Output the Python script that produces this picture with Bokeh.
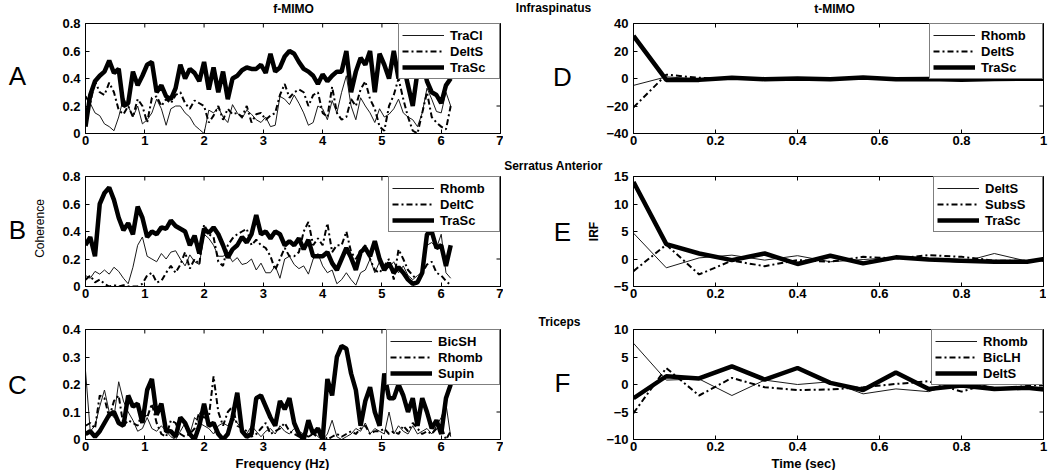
import math
from bokeh.plotting import figure
from bokeh.models import Range1d, FixedTicker, Legend, LegendItem, Label
from bokeh.layouts import column, row
from bokeh.embed import file_html
from bokeh.resources import INLINE

FONT = "Liberation Sans"

# ---------------- data ----------------
freq = [round(0.08 * i, 2) for i in range(78)]  # sampling grid (Hz)

A_TraCl = [0.08,0.22,0.15,0.13,0.07,0.05,0.02,0.12,0.26,0.20,
           0.12,0.20,0.07,0.10,0.15,0.25,0.18,0.06,0.18,0.20,
           0.20,0.15,0.12,0.06,0.03,0.00,0.17,0.15,0.19,0.12,
           0.08,0.21,0.15,0.11,0.17,0.14,0.10,0.08,0.12,0.05,
           0.06,0.27,0.25,0.21,0.28,0.22,0.15,0.06,0.08,0.20,
           0.18,0.10,0.24,0.15,0.30,0.42,0.20,0.10,0.26,0.20,
           0.15,0.08,0.18,0.12,0.14,0.18,0.25,0.15,0.12,0.10,
           0.05,0.15,0.33,0.25,0.16,0.15,0.30,0.20]
A_DeltS = [0.27,0.22,0.38,0.30,0.28,0.37,0.30,0.17,0.14,0.20,
           0.12,0.25,0.20,0.08,0.26,0.27,0.20,0.25,0.22,0.28,
           0.30,0.22,0.18,0.24,0.22,0.20,0.08,0.13,0.20,0.10,
           0.18,0.14,0.15,0.12,0.20,0.08,0.14,0.15,0.10,0.13,
           0.15,0.28,0.36,0.26,0.30,0.32,0.30,0.20,0.28,0.30,
           0.15,0.12,0.34,0.15,0.10,0.12,0.25,0.20,0.32,0.38,
           0.25,0.18,0.05,0.02,0.20,0.28,0.40,0.25,0.12,0.02,
           0.00,0.15,0.30,0.12,0.08,0.05,0.03,0.20]
A_TraSc = [0.05,0.28,0.38,0.42,0.45,0.53,0.44,0.47,0.20,0.22,
           0.45,0.35,0.42,0.50,0.52,0.30,0.35,0.27,0.25,0.33,
           0.50,0.40,0.47,0.44,0.38,0.52,0.32,0.48,0.30,0.45,
           0.25,0.40,0.42,0.46,0.48,0.47,0.47,0.50,0.44,0.58,
           0.45,0.48,0.56,0.60,0.58,0.52,0.47,0.45,0.42,0.36,
           0.43,0.38,0.42,0.45,0.45,0.60,0.30,0.45,0.55,0.50,
           0.60,0.30,0.58,0.50,0.40,0.60,0.40,0.50,0.35,0.20,
           0.45,0.52,0.38,0.30,0.28,0.22,0.35,0.40]

B_Rhomb = [0.08,0.06,0.11,0.09,0.12,0.09,0.14,0.11,0.06,0.02,
           0.14,0.30,0.36,0.22,0.20,0.18,0.24,0.20,0.25,0.26,
           0.20,0.15,0.23,0.18,0.16,0.38,0.35,0.30,0.22,0.22,
           0.24,0.18,0.21,0.16,0.17,0.20,0.12,0.17,0.10,0.10,
           0.15,0.06,0.20,0.22,0.16,0.13,0.15,0.09,0.20,0.24,
           0.15,0.10,0.12,0.02,0.05,0.10,0.05,0.01,0.10,0.12,
           0.20,0.10,0.18,0.12,0.14,0.18,0.10,0.15,0.08,0.05,
           0.08,0.10,0.30,0.32,0.28,0.38,0.10,0.06]
B_DeltC = [0.05,0.08,0.03,0.05,0.02,0.00,0.01,0.00,0.01,0.00,
           0.00,0.00,0.02,0.08,0.10,0.03,0.04,0.10,0.15,0.10,
           0.16,0.25,0.13,0.20,0.16,0.45,0.38,0.36,0.18,0.15,
           0.30,0.35,0.38,0.40,0.42,0.30,0.34,0.30,0.28,0.22,
           0.12,0.20,0.28,0.22,0.22,0.25,0.40,0.47,0.30,0.35,
           0.30,0.46,0.25,0.30,0.30,0.40,0.25,0.20,0.26,0.30,
           0.20,0.12,0.10,0.15,0.20,0.05,0.27,0.20,0.12,0.08,
           0.05,0.10,0.16,0.18,0.10,0.08,0.04,0.01]
B_TraSc = [0.30,0.36,0.22,0.60,0.68,0.72,0.63,0.50,0.41,0.46,
           0.38,0.58,0.50,0.36,0.40,0.38,0.43,0.42,0.48,0.44,
           0.42,0.40,0.30,0.37,0.24,0.42,0.39,0.43,0.38,0.30,
           0.21,0.27,0.30,0.36,0.32,0.38,0.52,0.38,0.40,0.35,
           0.40,0.38,0.30,0.33,0.30,0.35,0.27,0.34,0.22,0.22,
           0.22,0.25,0.17,0.12,0.20,0.28,0.21,0.12,0.25,0.28,
           0.22,0.33,0.20,0.12,0.17,0.10,0.14,0.10,0.05,0.02,
           0.03,0.10,0.38,0.40,0.28,0.30,0.15,0.30]

C_BicSH = [0.25,0.03,0.05,0.12,0.18,0.10,0.08,0.21,0.14,0.10,
           0.07,0.03,0.04,0.08,0.04,0.03,0.05,0.03,0.01,0.00,
           0.03,0.06,0.02,0.08,0.06,0.05,0.04,0.02,0.05,0.06,
           0.05,0.08,0.06,0.04,0.02,0.05,0.03,0.01,0.03,0.04,
           0.02,0.05,0.03,0.02,0.04,0.03,0.02,0.05,0.03,0.01,
           0.00,0.02,0.07,0.01,0.00,0.01,0.02,0.04,0.03,0.06,
           0.02,0.04,0.03,0.02,0.10,0.02,0.05,0.03,0.02,0.05,
           0.02,0.03,0.04,0.02,0.05,0.08,0.13,0.01]
C_Rhomb = [0.05,0.06,0.04,0.16,0.15,0.08,0.14,0.16,0.05,0.07,
           0.06,0.05,0.10,0.08,0.13,0.06,0.02,0.01,0.07,0.06,
           0.02,0.01,0.02,0.04,0.10,0.08,0.08,0.23,0.10,0.05,
           0.10,0.12,0.05,0.04,0.03,0.01,0.02,0.04,0.06,0.02,
           0.03,0.04,0.06,0.03,0.02,0.01,0.02,0.01,0.02,0.01,
           0.02,0.00,0.01,0.02,0.01,0.02,0.03,0.02,0.04,0.05,
           0.02,0.03,0.03,0.04,0.02,0.03,0.02,0.05,0.03,0.06,
           0.04,0.02,0.03,0.02,0.04,0.05,0.00,0.03]
C_Supin = [0.02,0.03,0.01,0.03,0.06,0.09,0.10,0.06,0.05,0.16,
           0.12,0.13,0.06,0.18,0.22,0.09,0.13,0.03,0.03,0.01,
           0.08,0.06,0.02,0.00,0.05,0.13,0.05,0.06,0.02,0.00,
           0.02,0.08,0.17,0.03,0.01,0.02,0.15,0.16,0.12,0.08,
           0.05,0.14,0.11,0.15,0.06,0.02,0.00,0.07,0.02,0.04,
           0.00,0.22,0.16,0.30,0.34,0.33,0.24,0.18,0.05,0.14,
           0.19,0.10,0.05,0.24,0.15,0.15,0.20,0.16,0.10,0.15,
           0.05,0.15,0.10,0.04,0.07,0.02,0.15,0.20]

time = [0.0, 0.08, 0.16, 0.24, 0.32, 0.40, 0.48, 0.56, 0.64, 0.72, 0.80, 0.88, 0.96, 1.04]

D_Rhomb = [-5.0, 1.2, -0.3, 0.2, -0.2, 0.1, -0.1, 0.3, -0.2, 0.1, -0.3, 0.1, 0.0, 0.0]
D_DeltS = [-21.0, 2.8, 0.5, -0.2, 0.3, -0.1, 0.2, -0.2, 0.1, 0.0, -0.2, 0.1, 0.0, 0.0]
D_TraSc = [31.0, -1.0, -1.0, 0.5, -0.5, 0.0, -0.5, 0.8, -0.5, -0.3, -1.0, -0.3, -0.2, 0.0]

E_DeltS = [4.7, -1.6, 0.2, 0.7, -0.2, 0.6, -0.5, -0.1, 0.3, -0.2, -0.6, 1.0, -0.4, -0.3]
E_SubsS = [-2.2, 2.6, -2.8, -0.3, -1.3, -0.2, -0.5, 0.4, 0.1, 0.7, 0.4, -0.3, -0.3, -0.3]
E_TraSc = [14.0, 2.7, 1.0, -0.2, 1.0, -0.9, 0.6, -0.8, 0.3, -0.1, -0.3, -0.5, -0.5, 0.5]

F_Rhomb = [7.5, 0.8, 1.0, -2.0, 0.8, 0.0, 0.5, -1.7, -0.8, -1.3, 0.5, -0.5, -0.7, -0.5]
F_BicLH = [-5.2, 3.0, -2.0, 1.2, -0.5, -1.0, -0.9, -0.5, 0.1, 0.6, -1.3, 0.5, -0.1, -0.3]
F_DeltS = [-2.5, 1.5, 1.1, 3.3, 0.9, 3.0, 0.3, -1.0, 2.2, -0.8, -0.2, -0.8, -0.6, -1.2]

freq_ticks = [0, 1, 2, 3, 4, 5, 6, 7]
coh_ticks_ab = [0, 0.2, 0.4, 0.6, 0.8]
coh_ticks_c = [0, 0.1, 0.2, 0.3, 0.4]
time_ticks = [0, 0.2, 0.4, 0.6, 0.8, 1]
irf_ticks_d = [-40, -20, 0, 20, 40]
irf_ticks_e = [-5, 0, 5, 10, 15]
irf_ticks_f = [-10, -5, 0, 5, 10]

# ---------------- layout constants (px) ----------------
FH = 110
TOP_H = 15
BOT_H = 14
ROW_BORDERS = [(8, 21), (22, 22), (21, 17)]      # (top, bottom) per row
LS_W = 57                                       # left text strip
L_BL, L_FW, L_BR = 28, 415, 3
MID_W = 100                                     # middle text strip
R_BL, R_FW, R_BR = 27, 410, 6
MAIN_H = sum(t + FH + b for t, b in ROW_BORDERS)
TOTAL_W = LS_W + L_BL + L_FW + L_BR + MID_W + R_BL + R_FW + R_BR

STYLES = {
    "thin": dict(line_width=1, line_color="#1a1a1a"),
    "dash": dict(line_width=2, line_color="black", line_dash="6 3 2 3"),
    "thick": dict(line_width=4.5, line_color="black"),
}


def make_fig(xmax, ylo, yhi, xticks, yticks, bl, br, bt, bb, fw):
    p = figure(frame_width=fw, frame_height=FH,
               x_range=Range1d(0, xmax), y_range=Range1d(ylo, yhi),
               output_backend="svg", toolbar_location=None,
               min_border_left=bl, min_border_right=br,
               min_border_top=bt, min_border_bottom=bb)
    p.xgrid.visible = False
    p.ygrid.visible = False
    p.outline_line_color = "black"
    p.outline_line_width = 1
    p.outline_line_alpha = 1
    p.background_fill_color = "white"
    p.border_fill_color = "white"
    over = {0: "0", 1: "1"}
    for ax, ticks in ((p.xaxis[0], xticks), (p.yaxis[0], yticks)):
        ax.ticker = FixedTicker(ticks=ticks)
        ax.major_label_overrides = over
        ax.major_tick_in = 4
        ax.major_tick_out = 0
        ax.minor_tick_line_color = None
        ax.major_tick_line_color = "black"
        ax.axis_line_color = "black"
        ax.major_label_text_font = FONT
        ax.major_label_text_font_style = "bold"
        ax.major_label_text_font_size = "13px"
        ax.major_label_text_color = "black"
    p.xaxis[0].major_label_standoff = 2
    p.yaxis[0].major_label_standoff = 5
    # inward tick marks on the top and right edges of the box (half clipped by the frame)
    p.scatter(x=xticks, y=[yhi] * len(xticks), marker="dash", size=8,
              angle=math.pi / 2, line_color="black", line_width=1)
    p.scatter(x=[xmax] * len(yticks), y=yticks, marker="dash", size=8,
              line_color="black", line_width=1)
    return p


def add_series(p, x, series, label_width):
    items = []
    for name, ys, style in series:
        r = p.line(x, ys, **STYLES[style])
        items.append(LegendItem(label=name, renderers=[r]))
    leg = Legend(items=items, location="top_right",
                 border_line_color="black", border_line_width=1,
                 background_fill_color="white", background_fill_alpha=1,
                 label_text_font=FONT, label_text_font_style="bold",
                 label_text_font_size="13px", label_text_color="black",
                 glyph_width=42, glyph_height=16, label_height=16,
                 label_width=label_width, label_standoff=6,
                 padding=3, spacing=0, margin=0)
    p.add_layout(leg)


def strip(w, h):
    p = figure(width=w, height=h, x_range=Range1d(0, w), y_range=Range1d(0, h),
               x_axis_location=None, y_axis_location=None, min_border=0,
               output_backend="svg", toolbar_location=None)
    p.grid.visible = False
    p.outline_line_color = None
    p.background_fill_color = "white"
    p.border_fill_color = "white"
    return p


def txt(p, x0, y0, h, px, py, text, size="13px", style="bold", angle=0.0):
    # (px, py): page position of the text centre; (x0, y0): page origin of strip p
    p.add_layout(Label(x=px - x0, y=(y0 + h) - py, text=text, text_font=FONT,
                       text_font_size=size, text_font_style=style,
                       text_color="black", text_align="center",
                       text_baseline="middle", angle=angle))


# ---------------- figures ----------------
left_specs = [
    (0.8, coh_ticks_ab, [("TraCl", A_TraCl, "thin"), ("DeltS", A_DeltS, "dash"), ("TraSc", A_TraSc, "thick")], 46),
    (0.8, coh_ticks_ab, [("Rhomb", B_Rhomb, "thin"), ("DeltC", B_DeltC, "dash"), ("TraSc", B_TraSc, "thick")], 56),
    (0.4, coh_ticks_c, [("BicSH", C_BicSH, "thin"), ("Rhomb", C_Rhomb, "dash"), ("Supin", C_Supin, "thick")], 58),
]
right_specs = [
    (-40, 40, irf_ticks_d, [("Rhomb", D_Rhomb, "thin"), ("DeltS", D_DeltS, "dash"), ("TraSc", D_TraSc, "thick")], 58),
    (-5, 15, irf_ticks_e, [("DeltS", E_DeltS, "thin"), ("SubsS", E_SubsS, "dash"), ("TraSc", E_TraSc, "thick")], 54),
    (-10, 10, irf_ticks_f, [("Rhomb", F_Rhomb, "thin"), ("BicLH", F_BicLH, "dash"), ("DeltS", F_DeltS, "thick")], 56),
]

lefts, rights = [], []
for i in range(3):
    bt, bb = ROW_BORDERS[i]
    yhi, yt, ser, lw = left_specs[i]
    pl = make_fig(7, 0, yhi, freq_ticks, yt, L_BL, L_BR, bt, bb, L_FW)
    add_series(pl, freq, ser, lw)
    ylo, yhi2, yt2, ser2, lw2 = right_specs[i]
    pr = make_fig(1, ylo, yhi2, time_ticks, yt2, R_BL, R_BR, bt, bb, R_FW)
    add_series(pr, time, ser2, lw2)
    lefts.append(pl)
    rights.append(pr)

# ---------------- text strips ----------------
top = strip(TOTAL_W, TOP_H)
txt(top, 0, 0, TOP_H, 293, 8, "f-MIMO", size="12px")
txt(top, 0, 0, TOP_H, 834, 8, "t-MIMO", size="12px")
txt(top, 0, 0, TOP_H, 553, 7, "Infraspinatus", size="12px")

lstrip = strip(LS_W, MAIN_H)
for letter, py in (("A", 75), ("B", 229), ("C", 384)):
    txt(lstrip, 0, TOP_H, MAIN_H, 17, py, letter, size="26px", style="normal")
txt(lstrip, 0, TOP_H, MAIN_H, 39, 228, "Coherence", size="12px", style="normal", angle=math.pi / 2)

mid_x0 = LS_W + L_BL + L_FW + L_BR
mid = strip(MID_W, MAIN_H)
for letter, py in (("D", 76), ("E", 231), ("F", 382)):
    txt(mid, mid_x0, TOP_H, MAIN_H, 562, py, letter, size="26px", style="normal")
txt(mid, mid_x0, TOP_H, MAIN_H, 553, 165, "Serratus Anterior", size="12px")
txt(mid, mid_x0, TOP_H, MAIN_H, 559, 321, "Triceps", size="12px")
txt(mid, mid_x0, TOP_H, MAIN_H, 593, 231, "IRF", size="12px", angle=math.pi / 2)

bot_y0 = TOP_H + MAIN_H
bottom = strip(TOTAL_W, BOT_H)
txt(bottom, 0, bot_y0, BOT_H, 282, bot_y0 + 7, "Frequency (Hz)")
txt(bottom, 0, bot_y0, BOT_H, 803, bot_y0 + 7, "Time (sec)")

main = row(lstrip, column(*lefts, spacing=0), mid, column(*rights, spacing=0), spacing=0)
layout = column(top, main, bottom, spacing=0)
open("out.html", "w").write(file_html(layout, INLINE))
